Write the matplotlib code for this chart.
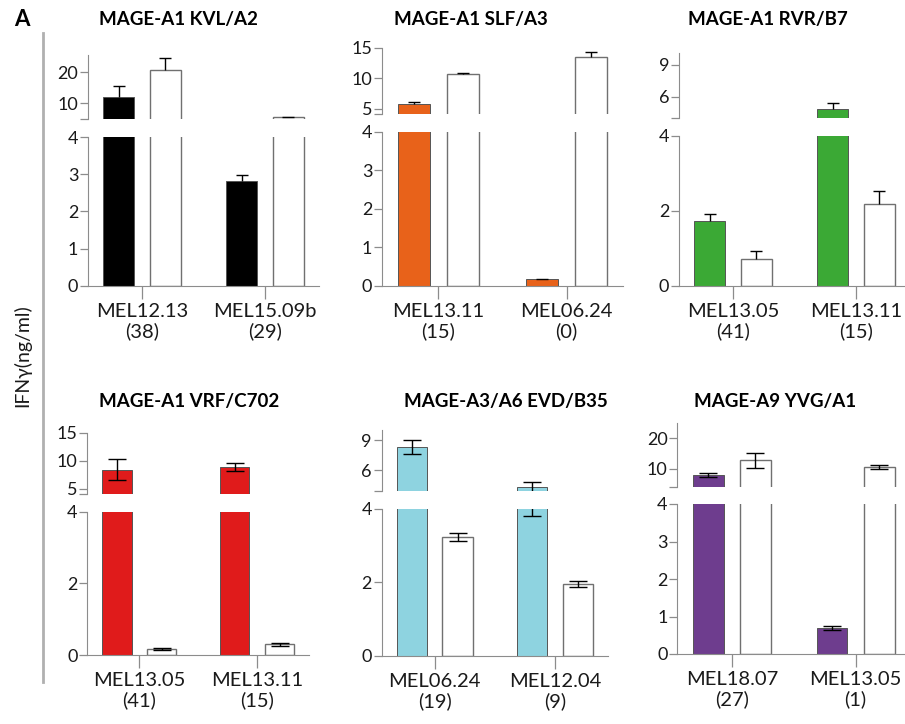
import matplotlib
matplotlib.use("Agg")
import matplotlib.pyplot as plt
from matplotlib.lines import Line2D
import numpy as np

plt.rcParams['font.family'] = ['Lato', 'DejaVu Sans']

W, H = 905, 724

# ---- data ----
titles = ["MAGE-A1 KVL/A2", "MAGE-A1 SLF/A3", "MAGE-A1 RVR/B7",
          "MAGE-A1 VRF/C702", "MAGE-A3/A6 EVD/B35", "MAGE-A9 YVG/A1"]
group_labels = [["MEL12.13\n(38)", "MEL15.09b\n(29)"],
                ["MEL13.11\n(15)", "MEL06.24\n(0)"],
                ["MEL13.05\n(41)", "MEL13.11\n(15)"],
                ["MEL13.05\n(41)", "MEL13.11\n(15)"],
                ["MEL06.24\n(19)", "MEL12.04\n(9)"],
                ["MEL18.07\n(27)", "MEL13.05\n(1)"]]
colored_vals = [[11.8, 2.83], [5.8, 0.17], [1.73, 4.85],
                [8.4, 8.9], [8.3, 4.32], [8.0, 0.69]]
colored_err = [[3.8, 0.14], [0.3, 0.0], [0.18, 0.6],
               [1.85, 0.7], [0.7, 0.52], [0.6, 0.05]]
white_vals = [[20.7, 5.5], [10.7, 13.5], [0.73, 2.18],
              [0.16, 0.3], [3.23, 1.95], [12.8, 10.6]]
white_err = [[3.8, 0.08], [0.15, 0.8], [0.19, 0.34],
             [0.03, 0.04], [0.1, 0.08], [2.4, 0.6]]
two_sided = [False, False, False, True, True, True]
bar_colors = ["#000000", "#E8621A", "#3BA935", "#E01B1B", "#8ED3E0", "#6E3D8E"]

top_lims = [(4.84, 25.5), (4.18, 15), (4.0, 10.07), (4.1, 15), (4.0, 10.0), (4.2, 25)]
top_ticks = [[10, 20], [5, 10, 15], [6, 9], [5, 10, 15], [6, 9], [10, 20]]
bottom_ticks = [[0, 1, 2, 3, 4], [0, 1, 2, 3, 4], [0, 2, 4],
                [0, 2, 4], [0, 2, 4], [0, 1, 2, 3, 4]]

# pixel layout: left, right, top-axes (top, bottom), bottom-axes (top, bottom)
layout = [(88, 319, (55, 119), (137, 286)),
          (382, 623, (47.7, 114), (132, 286)),
          (679, 910, (53.3, 118.3), (135.7, 286)),
          (87.3, 309, (432.7, 494), (511.7, 655)),
          (381.7, 608, (430, 490.5), (508.7, 656)),
          (677.3, 910, (422.7, 486.7), (504, 654))]
title_pos = [(178, 20), (471, 20), (768, 20), (189, 402), (506, 402), (775, 402)]

AX_GRAY = "#8c8c8c"
TXT = "#1a1a1a"

fig = plt.figure(figsize=(W / 100, H / 100), dpi=100)


def px_axes(left, right, top, bottom):
    return fig.add_axes([left / W, 1 - bottom / H, (right - left) / W, (bottom - top) / H])


x = np.arange(2)
off = 0.19
bw = 0.25

for i in range(6):
    left, right, (tt, tb), (bt, bb) = layout[i]
    ax_top = px_axes(left, right, tt, tb)
    ax_bot = px_axes(left, right, bt, bb)
    cap = 6.5 if two_sided[i] else 4.5

    for ax in (ax_top, ax_bot):
        ax.bar(x - off, colored_vals[i], bw, color=bar_colors[i], edgecolor="#555555",
               linewidth=0.7, zorder=2)
        ax.bar(x + off, white_vals[i], bw, color="white", edgecolor="#707070",
               linewidth=1.0, zorder=2)
        for xs, vals, errs in ((x - off, colored_vals[i], colored_err[i]),
                               (x + off, white_vals[i], white_err[i])):
            lower = errs if two_sided[i] else [0, 0]
            _, caps, _ = ax.errorbar(xs, vals, yerr=[lower, errs], fmt="none",
                                     ecolor="black", elinewidth=1.0, capsize=cap,
                                     capthick=1.0, zorder=3)
            if not two_sided[i]:
                caps[0].set_visible(False)
        ax.set_xlim(-0.44, 1.44)
        for s in ("top", "right"):
            ax.spines[s].set_visible(False)
        ax.spines["left"].set_color(AX_GRAY)
        ax.spines["bottom"].set_color(AX_GRAY)
        ax.tick_params(axis="both", colors=AX_GRAY, labelcolor=TXT, labelsize=13,
                       length=6, width=0.9, pad=1)

    ax_top.set_ylim(*top_lims[i])
    ax_top.set_yticks(top_ticks[i])
    ax_top.set_yticks([top_lims[i][0]], minor=True)
    ax_top.tick_params(axis="y", which="minor", length=6, width=0.9, colors=AX_GRAY)
    ax_top.spines["bottom"].set_visible(False)
    ax_top.set_xticks([])

    ax_bot.set_ylim(0, 4)
    ax_bot.set_yticks(bottom_ticks[i])
    ax_bot.set_xticks(x)
    ax_bot.set_xticklabels(group_labels[i], fontsize=14.5, linespacing=1.2)
    ax_bot.tick_params(axis="x", length=9, pad=3)

    tx, ty = title_pos[i]
    fig.text(tx / W, 1 - ty / H, titles[i], fontsize=13.5, fontweight="bold",
             ha="center", va="center", color="black")

fig.add_artist(Line2D([43 / W, 43 / W], [1 - 33 / H, 1 - 682 / H], color="#b0b0b0", lw=2))
fig.text(22 / W, 1 - 20 / H, "A", fontsize=16, fontweight="bold", ha="center", va="center")
fig.text(22 / W, 1 - 356 / H, "IFNγ(ng/ml)", fontsize=14, rotation=90,
         ha="center", va="center", color=TXT)

fig.savefig("out.png", dpi=100)
